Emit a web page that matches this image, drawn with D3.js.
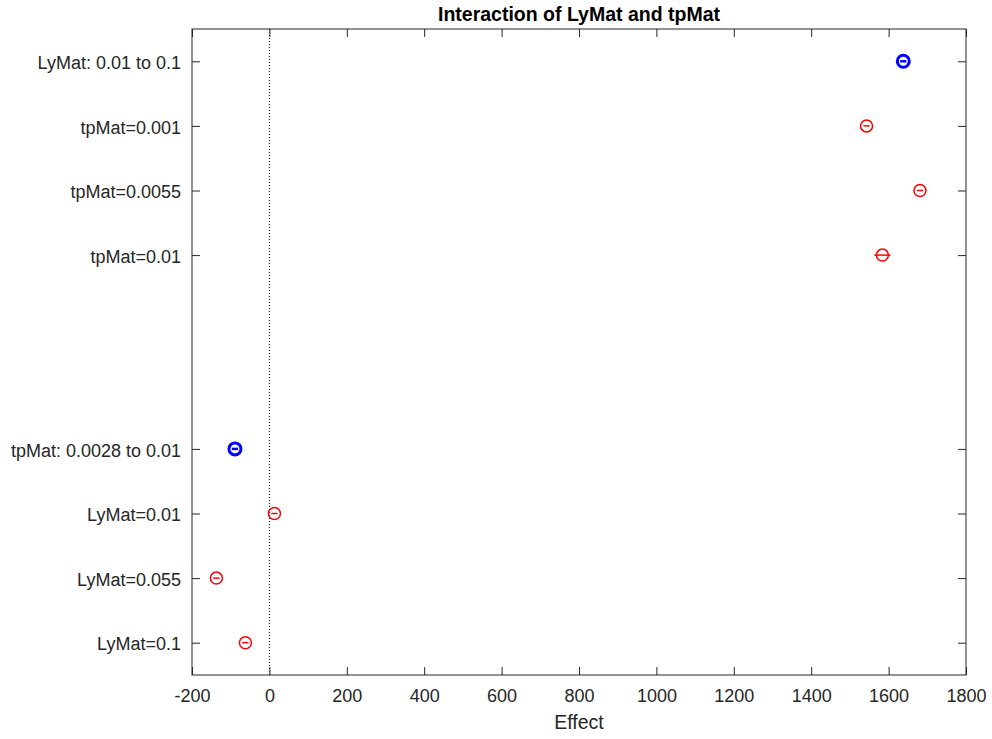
<!DOCTYPE html>
<html><head><meta charset="utf-8">
<script src="https://cdn.jsdelivr.net/npm/d3@7/dist/d3.min.js"></script>
<style>body{margin:0;background:#fff;}svg{display:block;}text{font-family:"Liberation Sans",Arial,Helvetica,sans-serif;}</style>
</head><body>
<script>
// Data
const labels = ["LyMat: 0.01 to 0.1","tpMat=0.001","tpMat=0.0055","tpMat=0.01","","","tpMat: 0.0028 to 0.01","LyMat=0.01","LyMat=0.055","LyMat=0.1"];
const slots = [1,2,3,4,7,8,9,10];
const names = ["LyMat: 0.01 to 0.1","tpMat=0.001","tpMat=0.0055","tpMat=0.01","tpMat: 0.0028 to 0.01","LyMat=0.01","LyMat=0.055","LyMat=0.1"];
const effects = [1638,1543,1681,1584,-89,13,-137,-62];
const lower = [1630,1535,1673,1563,-97,5,-145,-70];
const upper = [1646,1551,1689,1605,-81,21,-129,-54];
const kinds = ["main","level","level","level","main","level","level","level"];
const xTicks = [-200,0,200,400,600,800,1000,1200,1400,1600,1800];

const W=992,H=739;
const m={l:192,r:26,t:29,b:64};
const svg=d3.select("body").append("svg").attr("width",W).attr("height",H);
const x=d3.scaleLinear().domain([-200,1800]).range([m.l,W-m.r]);
const y=d3.scaleLinear().domain([0.5,10.5]).range([m.t,H-m.b]);
const pw=W-m.r-m.l, ph=H-m.b-m.t;
const axCol="#262626", tl=8;

// zero reference line
svg.append("line").attr("x1",x(0)).attr("x2",x(0)).attr("y1",m.t).attr("y2",H-m.b)
  .attr("stroke","#000").attr("stroke-width",1).attr("stroke-dasharray","1,2");

// box
svg.append("rect").attr("x",m.l).attr("y",m.t).attr("width",pw).attr("height",ph)
  .attr("fill","none").attr("stroke",axCol).attr("stroke-width",1);

// x axis bottom
const xb=svg.append("g").attr("transform",`translate(0,${H-m.b})`)
  .call(d3.axisBottom(x).tickValues(xTicks).tickSizeInner(-tl).tickSizeOuter(0).tickPadding(14)
  .tickFormat(d=>String(d)));
const xt=svg.append("g").attr("transform",`translate(0,${m.t})`)
  .call(d3.axisTop(x).tickValues(xTicks).tickSizeInner(-tl).tickSizeOuter(0).tickFormat(""));
// y axes
const yl=svg.append("g").attr("transform",`translate(${m.l},0)`)
  .call(d3.axisLeft(y).tickValues(slots).tickSizeInner(-tl).tickSizeOuter(0).tickPadding(11)
  .tickFormat(d=>labels[d-1]));
const yr=svg.append("g").attr("transform",`translate(${W-m.r},0)`)
  .call(d3.axisRight(y).tickValues(slots).tickSizeInner(-tl).tickSizeOuter(0).tickFormat(""));
[xb,xt,yl,yr].forEach(g=>{
  g.select(".domain").remove();
  g.selectAll(".tick line").attr("stroke",axCol);
  g.selectAll("text").attr("fill",axCol).style("font-size","18px").style("font-family",'"Liberation Sans",Arial,sans-serif');
});
yl.selectAll("text").attr("dy","0.4em");

// data marks
const pts=effects.map((e,i)=>({e,lo:lower[i],hi:upper[i],slot:slots[i],k:kinds[i]}));
const g=svg.append("g");
g.selectAll("line.ci").data(pts).enter().append("line")
  .attr("x1",d=>x(d.lo)).attr("x2",d=>x(d.hi)).attr("y1",d=>y(d.slot)).attr("y2",d=>y(d.slot))
  .attr("stroke",d=>d.k==="main"?"#0000ff":"#ff0000").attr("stroke-width",d=>d.k==="main"?2.5:1.5);
g.selectAll("circle").data(pts).enter().append("circle")
  .attr("cx",d=>x(d.e)).attr("cy",d=>y(d.slot)).attr("r",6)
  .attr("fill","none").attr("stroke",d=>d.k==="main"?"#0000ff":"#ff0000")
  .attr("stroke-width",d=>d.k==="main"?3:1.5);

// title & label
svg.append("text").attr("x",m.l+pw/2).attr("y",21).attr("text-anchor","middle")
  .style("font-size","19.5px").style("font-weight","bold").attr("fill","#000")
  .text("Interaction of LyMat and tpMat");
svg.append("text").attr("x",m.l+pw/2).attr("y",729).attr("text-anchor","middle")
  .style("font-size","19.5px").attr("fill",axCol).text("Effect");
</script>
</body></html>
